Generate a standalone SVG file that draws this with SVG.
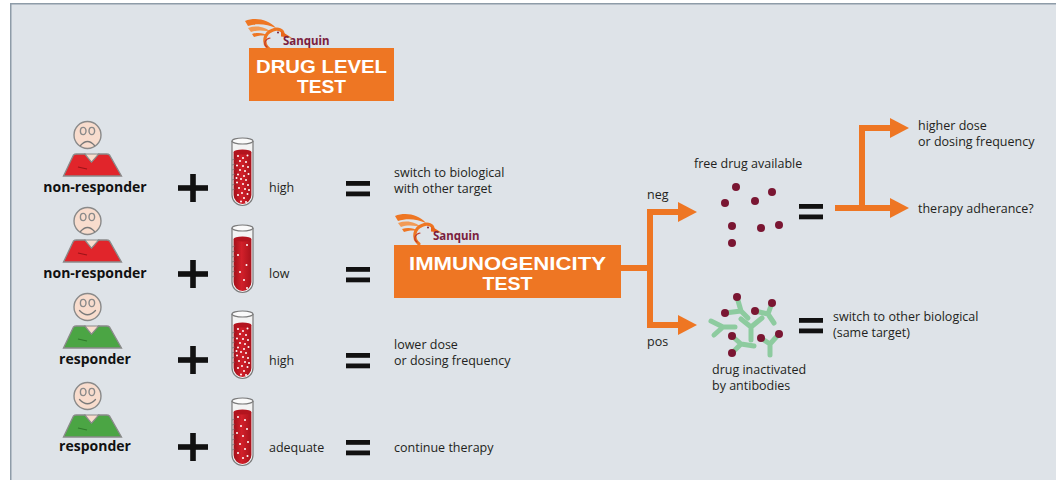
<svg xmlns="http://www.w3.org/2000/svg" xmlns:xlink="http://www.w3.org/1999/xlink" width="1056" height="480" viewBox="0 0 1056 480">
  <style>
    .txt { font-family: "Open Sans", "Noto Sans", "Liberation Sans", sans-serif; font-size: 12.5px; fill: #231f20; }
    .who { font-family: "Open Sans", "Noto Sans", "Liberation Sans", sans-serif; font-size: 14px; font-weight: 700; fill: #111; }
    .boxtitle { font-family: "Liberation Sans", "Arial", sans-serif; font-size: 17.5px; font-weight: 700; fill: #ffffff; }
    .brand { font-family: "Noto Sans", "Open Sans", "Liberation Sans", sans-serif; font-size: 11.5px; font-weight: 700; fill: #7b1f3e; }
    .testbox { fill: #ee7623; }
    .sign { fill: #111; }
    .flow { fill: none; stroke: #ee7623; stroke-width: 6; stroke-linejoin: miter; marker-end: url(#arrow); }
    .flow-plain { fill: none; stroke: #ee7623; stroke-width: 6; }
    .drug { fill: #7a1632; }
    .ab { fill: none; stroke: #8dcb9f; stroke-width: 5; stroke-linecap: round; stroke-linejoin: round; }
    .skin { fill: #f8dccd; stroke: #8a8a8a; stroke-width: 1.4; }
    .feature { fill: none; stroke: #7a7a7a; stroke-width: 1.3; stroke-linecap: round; }
    .bubble { fill: #ffffff; }
  </style>
  <defs>
    <marker id="arrow" markerUnits="userSpaceOnUse" markerWidth="20" markerHeight="20" refX="1" refY="10" orient="auto" viewBox="0 0 20 20">
      <path d="M0,0 L19,10 L0,20 Z" fill="#ee7623"/>
    </marker>
    <linearGradient id="blood" x1="0" y1="0" x2="1" y2="0">
      <stop offset="0" stop-color="#a3101a"/>
      <stop offset="0.45" stop-color="#d2202a"/>
      <stop offset="1" stop-color="#a8121b"/>
    </linearGradient>

    <!-- Sanquin brand mark: pelican + wordmark -->
    <g id="logo">
      <path d="M0,3 C10,-1 23,1 31,10 C22,6 12,5 3,8 Z" fill="#ee7623"/>
      <path d="M3,10 C12,7 21,9 27,15 C20,12 12,12 6,14 Z" fill="#f29a55"/>
      <path d="M7,16 C13,14 19,15 23,18 C17,17 12,18 9,19 Z" fill="#ee7623"/>
      <path d="M24,31 C17,25 19,15 28,12 C33,10 38,12 38,16" fill="none" stroke="#ee7623" stroke-width="3.2" stroke-linecap="round"/>
      <path d="M36,13 L47,20 L36,18.5 Z" fill="#e8661a"/>
      <path d="M22,29 C18,26 20,21 25,20" fill="none" stroke="#c0392b" stroke-width="1.2" stroke-linecap="round"/>
      <circle cx="33" cy="14.5" r="1" fill="#7b1f3e"/>
      <text class="brand" x="38" y="27">Sanquin</text>
    </g>

    <!-- figure parts, head centre at 0,0 -->
    <g id="head-sad">
      <circle class="skin" cx="0" cy="0" r="13.5"/>
      <ellipse class="skin" cx="-4.3" cy="-4" rx="2.8" ry="3.6" stroke="#777" stroke-width="1.1"/>
      <ellipse class="skin" cx="4.3" cy="-4" rx="2.8" ry="3.6" stroke="#777" stroke-width="1.1"/>
      <path class="feature" d="M-7,10.5 Q0,2.5 7,10.5"/>
    </g>
    <g id="head-happy">
      <circle class="skin" cx="0" cy="0" r="13.5"/>
      <ellipse class="skin" cx="-4.3" cy="-4" rx="2.8" ry="3.6" stroke="#777" stroke-width="1.1"/>
      <ellipse class="skin" cx="4.3" cy="-4" rx="2.8" ry="3.6" stroke="#777" stroke-width="1.1"/>
      <path class="feature" d="M-8,3.5 Q0,12 8,3.5"/>
    </g>
    <path id="torso" d="M-24,41 L-14,20 Q-13,19 -11,19 L-2.5,19 L4,27 L11,19 L19,19 Q21,19 22,20 L34,41 Z" stroke="#8a8a8a" stroke-width="1.3"/>
    <path id="collar" d="M-2.5,19 L4,27 L11,19 Z" fill="#f8dccd" stroke="#8a8a8a" stroke-width="1.1"/>

    <!-- test tube, top-left at 0,0 -->
    <g id="tube">
      <path d="M0,3 L0,57 A10.5,10.5 0 0 0 21,57 L21,3" fill="#f3f3f3" stroke="#7a7a7a" stroke-width="1.2"/>
      <path d="M1.6,14 L1.6,57 A8.9,8.9 0 0 0 19.4,57 L19.4,14 Z" fill="url(#blood)"/>
      <ellipse cx="10.5" cy="14" rx="8.9" ry="2.4" fill="#b3141e"/>
      <ellipse cx="10.5" cy="3" rx="10.5" ry="3" fill="#fafafa" stroke="#7a7a7a" stroke-width="1.2"/>
      <g stroke="#6b6b6b" stroke-width="0.6">
        <path d="M0,22 l3,-1 M0,27 l3,-1 M0,32 l3,-1 M0,37 l3,-1 M0,42 l3,-1 M0,47 l3,-1 M0,52 l3,-1"/>
      </g>
    </g>
    <g id="dots-high" class="bubble">
      <circle cx="6" cy="18" r="1"/><circle cx="11" cy="20" r="1"/><circle cx="15.5" cy="17.5" r="1"/>
      <circle cx="8" cy="23" r="1"/><circle cx="14" cy="24" r="1"/><circle cx="5" cy="27.5" r="1"/>
      <circle cx="11" cy="28" r="1"/><circle cx="16" cy="29" r="1"/><circle cx="8" cy="32" r="1"/>
      <circle cx="13" cy="33" r="1"/><circle cx="6" cy="36.5" r="1"/><circle cx="12" cy="38" r="1"/>
      <circle cx="16.5" cy="36" r="1"/><circle cx="9" cy="41" r="1"/><circle cx="14" cy="42" r="1"/>
      <circle cx="5" cy="44.5" r="1"/><circle cx="11" cy="46" r="1"/><circle cx="16" cy="47" r="1"/>
      <circle cx="7" cy="50" r="1"/><circle cx="13" cy="51" r="1"/><circle cx="10" cy="55" r="1"/>
      <circle cx="15.5" cy="56" r="1"/><circle cx="6" cy="57" r="1"/><circle cx="12" cy="60" r="1"/>
      <circle cx="9" cy="63.5" r="1"/><circle cx="14" cy="64" r="1"/><circle cx="17" cy="52" r="1"/>
      <circle cx="4.5" cy="40" r="1"/>
    </g>
    <g id="dots-low" class="bubble">
      <circle cx="15" cy="20" r="1"/><circle cx="6" cy="30" r="1"/><circle cx="14.5" cy="40" r="1"/>
      <circle cx="8" cy="47" r="1"/><circle cx="12" cy="55" r="1"/><circle cx="15" cy="63" r="1"/>
    </g>
    <g id="dots-adequate" class="bubble">
      <circle cx="6" cy="19" r="1"/><circle cx="13" cy="22" r="1"/><circle cx="9" cy="28" r="1"/>
      <circle cx="15" cy="31" r="1"/><circle cx="5" cy="35" r="1"/><circle cx="11" cy="38" r="1"/>
      <circle cx="16" cy="44" r="1"/><circle cx="8" cy="46" r="1"/><circle cx="13" cy="51" r="1"/>
      <circle cx="6" cy="55" r="1"/><circle cx="11" cy="60" r="1"/><circle cx="15.5" cy="58" r="1"/>
    </g>

    <g id="plus" class="sign">
      <rect x="-15" y="-2.8" width="30" height="5.6"/>
      <rect x="-2.8" y="-14" width="5.6" height="28"/>
    </g>
    <g id="equals" class="sign">
      <rect x="0" y="0" width="24" height="4.8"/>
      <rect x="0" y="10.5" width="24" height="4.8"/>
    </g>
  </defs>

  <!-- panel -->
  <rect x="0" y="0" width="1056" height="480" fill="#ffffff"/>
  <rect x="10.75" y="3.75" width="1060" height="490" fill="#dee3e8" stroke="#8e9ca8" stroke-width="1.5"/>

  <!-- drug level test -->
  <g id="drug-level-test">
    <use xlink:href="#logo" x="245" y="18"/>
    <rect class="testbox" x="249" y="48" width="145" height="53"/>
    <text class="boxtitle" x="321.5" y="72.5" text-anchor="middle" textLength="131" lengthAdjust="spacingAndGlyphs">DRUG LEVEL</text>
    <text class="boxtitle" x="321.5" y="92.5" text-anchor="middle" textLength="49" lengthAdjust="spacingAndGlyphs">TEST</text>
  </g>

  <!-- row 1 -->
  <g id="row1">
    <g id="person1">
      <use xlink:href="#torso" x="87.5" y="135" fill="#e1252b"/>
      <use xlink:href="#collar" x="87.5" y="135"/>
      <path d="M78,167 L87,169" stroke="#9c1419" stroke-width="1.2"/>
      <use xlink:href="#head-sad" x="87.5" y="135"/>
      <text class="who" x="95" y="192" text-anchor="middle">non-responder</text>
    </g>
    <use xlink:href="#plus" x="193" y="188"/>
    <g id="tube1">
      <use xlink:href="#tube" x="232" y="138"/>
      <use xlink:href="#dots-high" x="232" y="138"/>
    </g>
    <text class="txt" x="269" y="192">high</text>
    <use xlink:href="#equals" x="346" y="181"/>
    <text class="txt" x="394" y="177">switch to biological</text>
    <text class="txt" x="394" y="193">with other target</text>
  </g>

  <!-- row 2 -->
  <g id="row2">
    <g id="person2">
      <use xlink:href="#torso" x="87.5" y="221" fill="#e1252b"/>
      <use xlink:href="#collar" x="87.5" y="221"/>
      <path d="M78,253 L87,255" stroke="#9c1419" stroke-width="1.2"/>
      <use xlink:href="#head-sad" x="87.5" y="221"/>
      <text class="who" x="95" y="278" text-anchor="middle">non-responder</text>
    </g>
    <use xlink:href="#plus" x="193" y="274"/>
    <g id="tube2">
      <use xlink:href="#tube" x="232" y="225"/>
      <use xlink:href="#dots-low" x="232" y="225"/>
    </g>
    <text class="txt" x="269" y="278">low</text>
    <use xlink:href="#equals" x="346" y="267"/>
  </g>

  <!-- row 3 -->
  <g id="row3">
    <g id="person3">
      <use xlink:href="#torso" x="87.5" y="307" fill="#4ba544"/>
      <use xlink:href="#collar" x="87.5" y="307"/>
      <path d="M78,339 L87,341" stroke="#2f7a2a" stroke-width="1.2"/>
      <use xlink:href="#head-happy" x="87.5" y="307"/>
      <text class="who" x="95" y="364" text-anchor="middle">responder</text>
    </g>
    <use xlink:href="#plus" x="193" y="360"/>
    <g id="tube3">
      <use xlink:href="#tube" x="232" y="311"/>
      <use xlink:href="#dots-high" x="232" y="311"/>
    </g>
    <text class="txt" x="269" y="365">high</text>
    <use xlink:href="#equals" x="346" y="353"/>
    <text class="txt" x="394" y="349">lower dose</text>
    <text class="txt" x="394" y="365">or dosing frequency</text>
  </g>

  <!-- row 4 -->
  <g id="row4">
    <g id="person4">
      <use xlink:href="#torso" x="87.5" y="396" fill="#4ba544"/>
      <use xlink:href="#collar" x="87.5" y="396"/>
      <path d="M78,428 L87,430" stroke="#2f7a2a" stroke-width="1.2"/>
      <use xlink:href="#head-happy" x="87.5" y="396"/>
      <text class="who" x="95" y="451" text-anchor="middle">responder</text>
    </g>
    <use xlink:href="#plus" x="193" y="447"/>
    <g id="tube4">
      <use xlink:href="#tube" x="232" y="398"/>
      <use xlink:href="#dots-adequate" x="232" y="398"/>
    </g>
    <text class="txt" x="269" y="452">adequate</text>
    <use xlink:href="#equals" x="346" y="440"/>
    <text class="txt" x="394" y="452">continue therapy</text>
  </g>

  <!-- immunogenicity test -->
  <g id="immunogenicity-test">
    <use xlink:href="#logo" x="395" y="213"/>
    <rect class="testbox" x="394" y="245" width="227" height="53"/>
    <text class="boxtitle" x="507.5" y="270" text-anchor="middle" textLength="197" lengthAdjust="spacingAndGlyphs">IMMUNOGENICITY</text>
    <text class="boxtitle" x="507.5" y="290" text-anchor="middle" textLength="50" lengthAdjust="spacingAndGlyphs">TEST</text>
  </g>

  <!-- connectors -->
  <g id="connectors">
    <path class="flow-plain" d="M621,268 H650"/>
    <path class="flow" d="M650,271 V212 H679"/>
    <path class="flow" d="M650,265 V325 H679"/>
    <path class="flow" d="M835,208 H891"/>
    <path class="flow" d="M862,211 V128 H891"/>
  </g>
  <text class="txt" x="647" y="199">neg</text>
  <text class="txt" x="647" y="346">pos</text>

  <!-- free drug -->
  <g id="free-drug">
    <text class="txt" x="694" y="168">free drug available</text>
    <circle class="drug" cx="736" cy="187" r="4"/>
    <circle class="drug" cx="772" cy="192" r="4"/>
    <circle class="drug" cx="725" cy="203" r="4"/>
    <circle class="drug" cx="755" cy="201" r="4"/>
    <circle class="drug" cx="732" cy="226" r="4"/>
    <circle class="drug" cx="761" cy="228" r="4"/>
    <circle class="drug" cx="779" cy="225" r="4"/>
    <circle class="drug" cx="732" cy="243" r="4"/>
    <use xlink:href="#equals" x="799" y="204"/>
  </g>

  <!-- outcomes for free drug -->
  <g id="free-drug-outcomes">
    <text class="txt" x="918" y="130">higher dose</text>
    <text class="txt" x="918" y="146">or dosing frequency</text>
    <text class="txt" x="918" y="213">therapy adherance?</text>
  </g>

  <!-- drug bound by antibodies -->
  <g id="inactivated-drug">
    <path class="ab" d="M737,297 L741,311 L725,313 M741,311 L748,318"/>
    <path class="ab" d="M772,303 L768,314 L755,311 M768,314 L774,323"/>
    <path class="ab" d="M711,321 L723,327 L714,335 M723,327 L735,327"/>
    <path class="ab" d="M741,319 L751,327 L762,318 M751,327 L751,340"/>
    <path class="ab" d="M732,336 L741,344 L732,353 M741,344 L754,346"/>
    <path class="ab" d="M761,338 L770,344 L779,334 M770,344 L770,355"/>
    <circle class="drug" cx="737" cy="297" r="4"/>
    <circle class="drug" cx="725" cy="313" r="4"/>
    <circle class="drug" cx="772" cy="303" r="4"/>
    <circle class="drug" cx="755" cy="311" r="4"/>
    <circle class="drug" cx="732" cy="336" r="4"/>
    <circle class="drug" cx="761" cy="338" r="4"/>
    <circle class="drug" cx="779" cy="334" r="4"/>
    <circle class="drug" cx="732" cy="353" r="4"/>
    <text class="txt" x="712" y="374">drug inactivated</text>
    <text class="txt" x="712" y="390">by antibodies</text>
    <use xlink:href="#equals" x="799" y="318"/>
    <text class="txt" x="833" y="321">switch to other biological</text>
    <text class="txt" x="833" y="337">(same target)</text>
  </g>
</svg>
